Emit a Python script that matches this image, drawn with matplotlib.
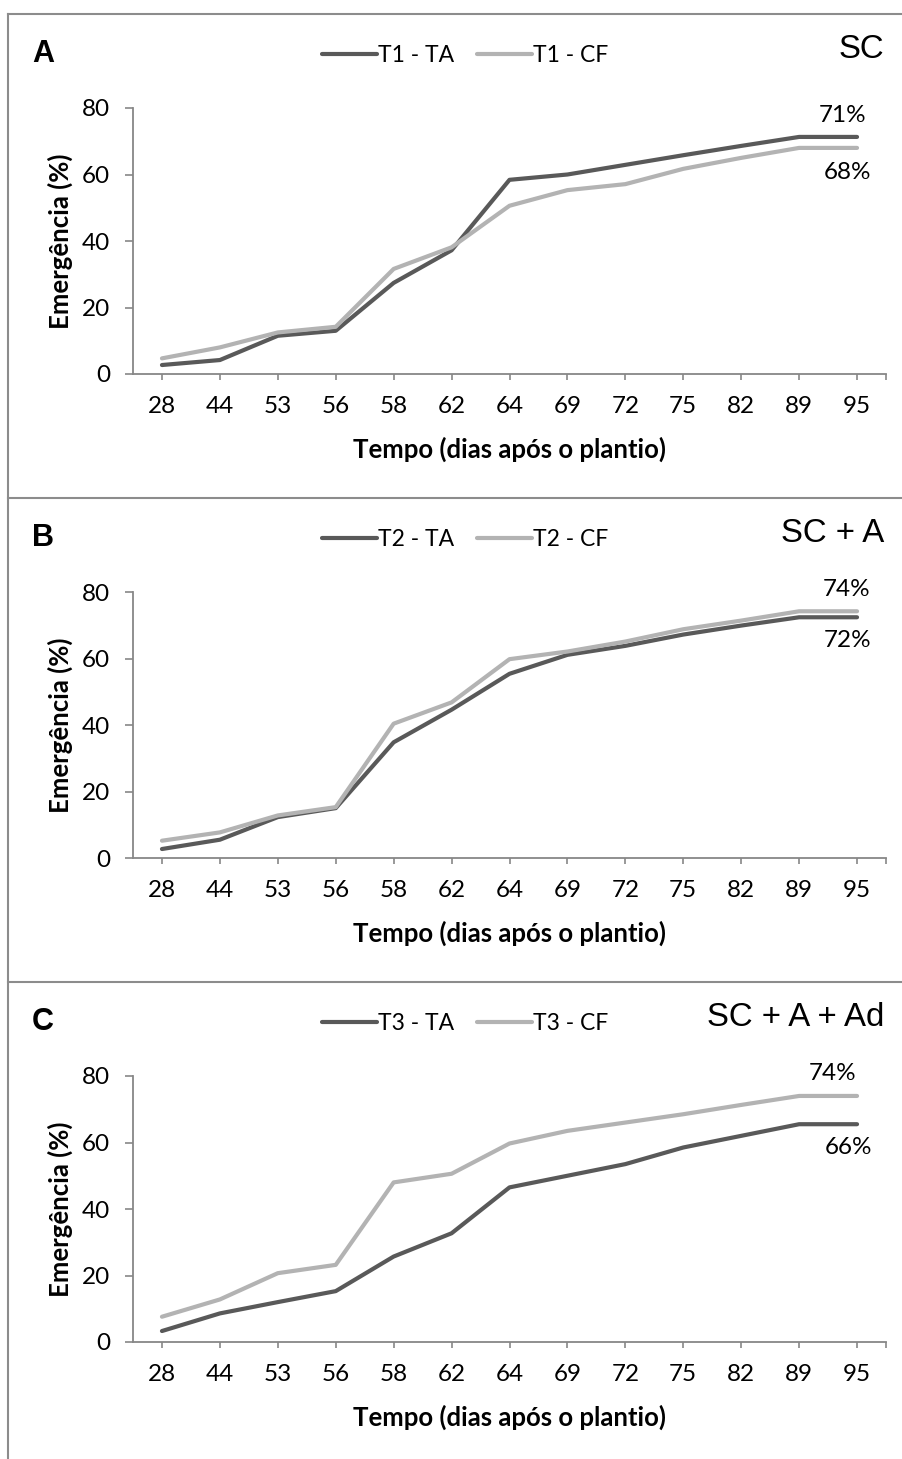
import matplotlib
matplotlib.use("Agg")
import matplotlib.pyplot as plt
from matplotlib.lines import Line2D

# dados
dias = ['28', '44', '53', '56', '58', '62', '64', '69', '72', '75', '82', '89', '95']
t1_ta = [2.7, 4.2, 11.5, 13.0, 27.4, 37.2, 58.4, 60.0, 62.9, 65.8, 68.6, 71.3, 71.3]
t1_cf = [4.7, 8.0, 12.5, 14.2, 31.6, 38.1, 50.6, 55.3, 57.1, 61.7, 65.0, 68.0, 68.0]
t2_ta = [2.7, 5.5, 12.3, 15.0, 34.8, 44.6, 55.4, 61.1, 63.8, 67.2, 69.9, 72.4, 72.4]
t2_cf = [5.2, 7.7, 12.8, 15.3, 40.4, 46.8, 59.8, 62.1, 65.1, 68.8, 71.4, 74.2, 74.2]
t3_ta = [3.3, 8.6, 12.0, 15.3, 25.7, 32.7, 46.5, 50.0, 53.5, 58.5, 62.0, 65.5, 65.5]
t3_cf = [7.6, 12.8, 20.7, 23.2, 48.0, 50.6, 59.7, 63.5, 66.0, 68.5, 71.3, 74.0, 74.0]

letras = ['A', 'B', 'C']
tratamentos = ['SC', 'SC + A', 'SC + A + Ad']
series = [(t1_ta, t1_cf), (t2_ta, t2_cf), (t3_ta, t3_cf)]
nomes = [('T1 - TA', 'T1 - CF'), ('T2 - TA', 'T2 - CF'), ('T3 - TA', 'T3 - CF')]
# (rotulo do TA, rotulo do CF)
finais = [('71%', '68%'), ('72%', '74%'), ('66%', '74%')]

W, H = 902, 1459
escuro = '#595959'
claro = '#b3b3b3'
cinza = '#878787'
plt.rcParams['font.family'] = ['Lato', 'DejaVu Sans']

fig = plt.figure(figsize=(W / 100, H / 100), dpi=100)

def fy(y):
    return 1 - y / H

topos = [14, 498, 982]
x = list(range(len(dias)))

for i, top in enumerate(topos):
    ax = fig.add_axes([133 / W, fy(top + 360), 753 / W, 266 / H])
    ta, cf = series[i]
    ax.plot(x, ta, color=escuro, lw=3, solid_joinstyle='round', solid_capstyle='round', label=nomes[i][0])
    ax.plot(x, cf, color=claro, lw=3, solid_joinstyle='round', solid_capstyle='round', label=nomes[i][1])
    ax.set_xlim(-0.5, 12.5)
    ax.set_ylim(0, 80)
    ax.set_yticks([0, 20, 40, 60, 80])
    ax.set_xticks(x)
    ax.set_xticklabels(dias)
    ax.set_xticks([12.5], minor=True)
    for s in ['top', 'right']:
        ax.spines[s].set_visible(False)
    for s in ['left', 'bottom']:
        ax.spines[s].set_color(cinza)
        ax.spines[s].set_linewidth(1.3)
    ax.tick_params(axis='both', which='both', color=cinza, width=1.2, labelsize=17.5)
    ax.tick_params(axis='x', which='both', length=4.5, pad=11)
    ax.tick_params(axis='y', length=5.5, pad=11)
    ax.set_ylabel('Emergência (%)', fontsize=18.5, fontweight='bold')
    ax.yaxis.set_label_coords(-0.08, 0.5)
    ax.set_xlabel('Tempo (dias após o plantio)', fontsize=18.5, fontweight='bold')
    ax.xaxis.set_label_coords(0.5, -0.235)

    # rotulos finais
    lab_ta, lab_cf = finais[i]
    if ta[-1] > cf[-1]:
        ax.annotate(lab_ta, (12, ta[-1]), xytext=(-14, 21), textcoords='offset pixels',
                    ha='center', va='center', fontsize=17.5)
        ax.annotate(lab_cf, (12, cf[-1]), xytext=(-10, -25), textcoords='offset pixels',
                    ha='center', va='center', fontsize=17.5)
    else:
        dx = -24 if i == 2 else -10
        ax.annotate(lab_cf, (12, cf[-1]), xytext=(dx, 22), textcoords='offset pixels',
                    ha='center', va='center', fontsize=17.5)
        ax.annotate(lab_ta, (12, ta[-1]), xytext=(-9, -23), textcoords='offset pixels',
                    ha='center', va='center', fontsize=17.5)

    fig.legend(handles=ax.get_lines(), loc='center', bbox_to_anchor=(465 / W, fy(top + 42)),
               ncol=2, frameon=False, fontsize=16.5, handlelength=2.4, handletextpad=0.05,
               columnspacing=1.0, borderaxespad=0)

    fig.text(32 / W, fy(top + 40), letras[i], fontsize=22, fontweight='bold',
             family='Liberation Sans', ha='left', va='center')
    fig.text(884 / W, fy(top + 35), tratamentos[i], fontsize=23.8,
             family='Liberation Sans', ha='right', va='center')

# molduras
fig.add_artist(Line2D([8 / W, 1], [fy(14), fy(14)], color='#8c8c8c', lw=1.5))
for y in [498, 982]:
    fig.add_artist(Line2D([8 / W, 1], [fy(y), fy(y)], color='#8c8c8c', lw=1.5))
fig.add_artist(Line2D([8 / W, 8 / W], [fy(14), 0], color='#8c8c8c', lw=1.5))

fig.savefig('out.png', dpi=100)
